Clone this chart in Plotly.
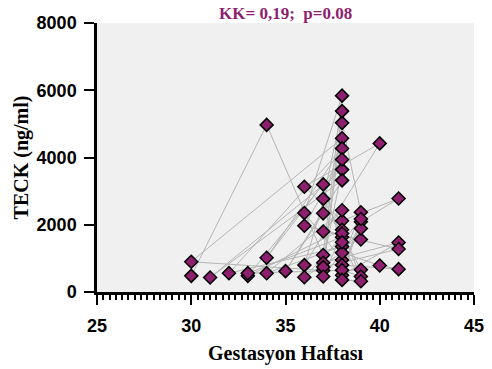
import plotly.graph_objects as go

# Gestational week and TECK concentration, in the order the samples are linked
week = [30, 34, 37, 38, 36, 38, 39, 38, 37, 30, 38, 36, 40, 36, 38, 41, 39, 38, 41, 37,
        38, 31, 38, 35, 37, 38, 33, 37, 38, 32, 38, 34, 38, 36, 39, 34, 38, 37, 41, 37,
        38, 37, 39, 33, 38, 36, 38, 40, 41, 38, 39, 37, 38, 39, 38, 39, 38, 39, 38]
teck = [480, 4970, 1100, 5840, 2350, 950, 2370, 5030, 640, 900, 4570, 800, 4420, 3130, 2120,
        2780, 2090, 500, 1470, 870, 3640, 430, 3320, 620, 2340, 1850, 480, 3200, 1350, 560,
        4270, 1020, 3940, 1970, 1560, 560, 2430, 1800, 1280, 740, 5380, 2770, 660, 560, 1630,
        440, 1170, 790, 680, 800, 1890, 460, 1740, 460, 650, 2170, 1480, 320, 360]

x_ticks = [25, 30, 35, 40, 45]
y_ticks = [0, 2000, 4000, 6000, 8000]
title_text = "KK= 0,19;  p=0.08"
x_title = "Gestasyon Haftası"
y_title = "TECK (ng/ml)"

fig = go.Figure()
fig.add_trace(go.Scatter(
    x=week, y=teck,
    mode="lines+markers",
    line=dict(color="#b5b5b5", width=1),
    marker=dict(symbol="diamond", size=10, color="#8d1f6e",
                line=dict(color="black", width=1.5)),
    showlegend=False,
))

tick_font = dict(family="Liberation Sans, Arial", size=18, color="black", weight="bold")
title_font = dict(family="Liberation Serif, Times New Roman", size=20, color="black", weight="bold")

fig.update_layout(
    width=492, height=369,
    margin=dict(l=97, r=18, t=23, b=77),
    paper_bgcolor="white",
    plot_bgcolor="#f0f0f0",
    annotations=[dict(
        text=title_text, x=0.5, y=1.0, xref="paper", yref="paper",
        xanchor="center", yanchor="bottom", yshift=-2, showarrow=False,
        font=dict(family="Liberation Serif, Times New Roman", size=17,
                  color="#8d1f6e", weight="bold"),
    )],
)

fig.update_xaxes(
    range=[25, 45], tickvals=x_ticks, ticktext=[str(v) for v in x_ticks],
    showgrid=False, zeroline=False, automargin=False,
    showline=True, linecolor="black", linewidth=2.5,
    ticks="outside", ticklen=10, tickwidth=2, tickcolor="black",
    tickfont=tick_font, ticklabelstandoff=6,
    minor=dict(dtick=1 / 3, tick0=25, ticks="outside", ticklen=5,
               tickwidth=1.5, tickcolor="black", showgrid=False),
    title=dict(text=x_title, font=title_font, standoff=11),
)
fig.update_yaxes(
    range=[0, 8000], tickvals=y_ticks, ticktext=[str(v) for v in y_ticks],
    showgrid=False, zeroline=False, automargin=False,
    showline=True, linecolor="black", linewidth=2.5,
    ticks="outside", ticklen=10, tickwidth=2, tickcolor="black",
    tickfont=tick_font, ticklabelstandoff=4,
    title=dict(text=y_title, font=title_font, standoff=3),
)

fig.write_html("out.html")
